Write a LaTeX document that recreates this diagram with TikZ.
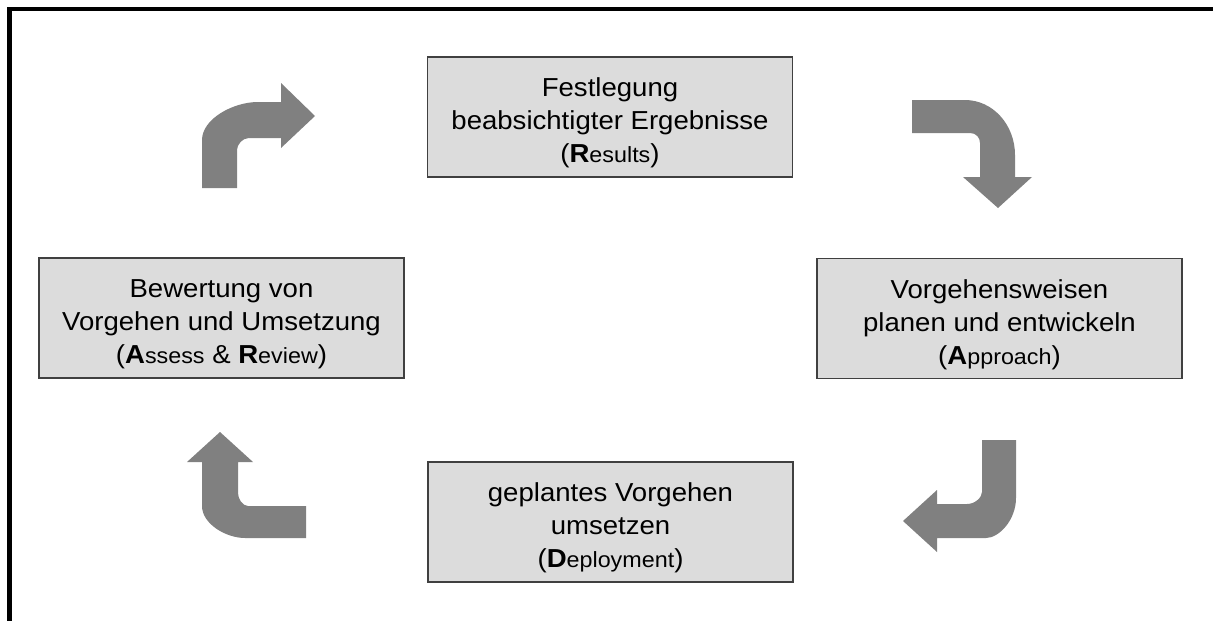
\documentclass[tikz,border=0pt]{standalone}
\usepackage{fontspec}
\setmainfont{Liberation Sans}[FakeStretch=1.06]
\definecolor{boxfill}{HTML}{DCDCDC}
\definecolor{boxline}{HTML}{404040}
\definecolor{arrowgray}{HTML}{808080}
\newcommand\phasefont{\fontsize{26}{33}\selectfont}
\newcommand\tagfont{\fontsize{22}{33}\selectfont}
\begin{document}
\begin{tikzpicture}[x=1pt,y=-1pt,
  phasebox/.style={draw=boxline, fill=boxfill, line width=1.5pt,
    minimum width=365pt, minimum height=120pt, inner sep=0pt},
  phasetext/.style={align=center, inner sep=0pt, font=\phasefont},
  bentarrow/.style={fill=arrowgray}]
\useasboundingbox (0,0) rectangle (1213,621);

% outer frame (only top and left edges are visible)
\draw[line width=4.3pt, line join=miter] (9.5,621) -- (9.5,9) -- (1213,9);

% the four phases
\node[phasebox] (r) at (610,117) {};
\node[phasebox] (a) at (999.5,318.5) {};
\node[phasebox] (d) at (610.5,522) {};
\node[phasebox] (ar) at (221.5,318) {};

\node[phasetext] (rt) at ([yshift=-6pt]r.center)
  {Festlegung\\beabsichtigter Ergebnisse\\(\textbf{R}{\tagfont esults})};
\node[phasetext] (at) at ([yshift=-6pt]a.center)
  {Vorgehensweisen\\planen und entwickeln\\(\textbf{A}{\tagfont pproach})};
\node[phasetext] (dt) at ([yshift=-6pt]d.center)
  {geplantes Vorgehen\\umsetzen\\(\textbf{D}{\tagfont eployment})};
\node[phasetext] (art) at ([yshift=-6pt]ar.center)
  {Bewertung von\\Vorgehen und Umsetzung\\(\textbf{A}{\tagfont ssess} \& \textbf{R}{\tagfont eview})};

% bent block arrows running clockwise around the cycle
\fill[bentarrow] (202,188) -- (202,140) .. controls (202,119) and (233,102) .. (258,102)
  -- (281,102) -- (281,83) -- (315,116) -- (281,148) -- (281,138) -- (249,138)
  .. controls (242.4,138) and (237,144.6) .. (237,150) -- (237,188) -- cycle;

\fill[bentarrow] (912,100) -- (965,100) .. controls (992.6,100) and (1015,124.6) .. (1015,155)
  -- (1015,177) -- (1032,177) -- (998,208) -- (963,177) -- (980,177) -- (980,143)
  .. controls (980,137.5) and (976,133) .. (970,133) -- (912,133) -- cycle;

\fill[bentarrow] (982,440) -- (1016,440) -- (1016,498) .. controls (1016,520) and (999,538) .. (986,538)
  -- (937,538) -- (937,552) -- (903,521) -- (937,490) -- (937,504) -- (967,504)
  .. controls (975,504) and (982,497.4) .. (982,492) -- cycle;

\fill[bentarrow] (306,506) -- (248,506) .. controls (242.5,506) and (238,498.8) .. (238,493)
  -- (238,462) -- (253,462) -- (220,432) -- (187,462) -- (202,462) -- (202,506)
  .. controls (202,523.7) and (225.7,538) .. (245,538) -- (306,538) -- cycle;
\end{tikzpicture}
\end{document}
